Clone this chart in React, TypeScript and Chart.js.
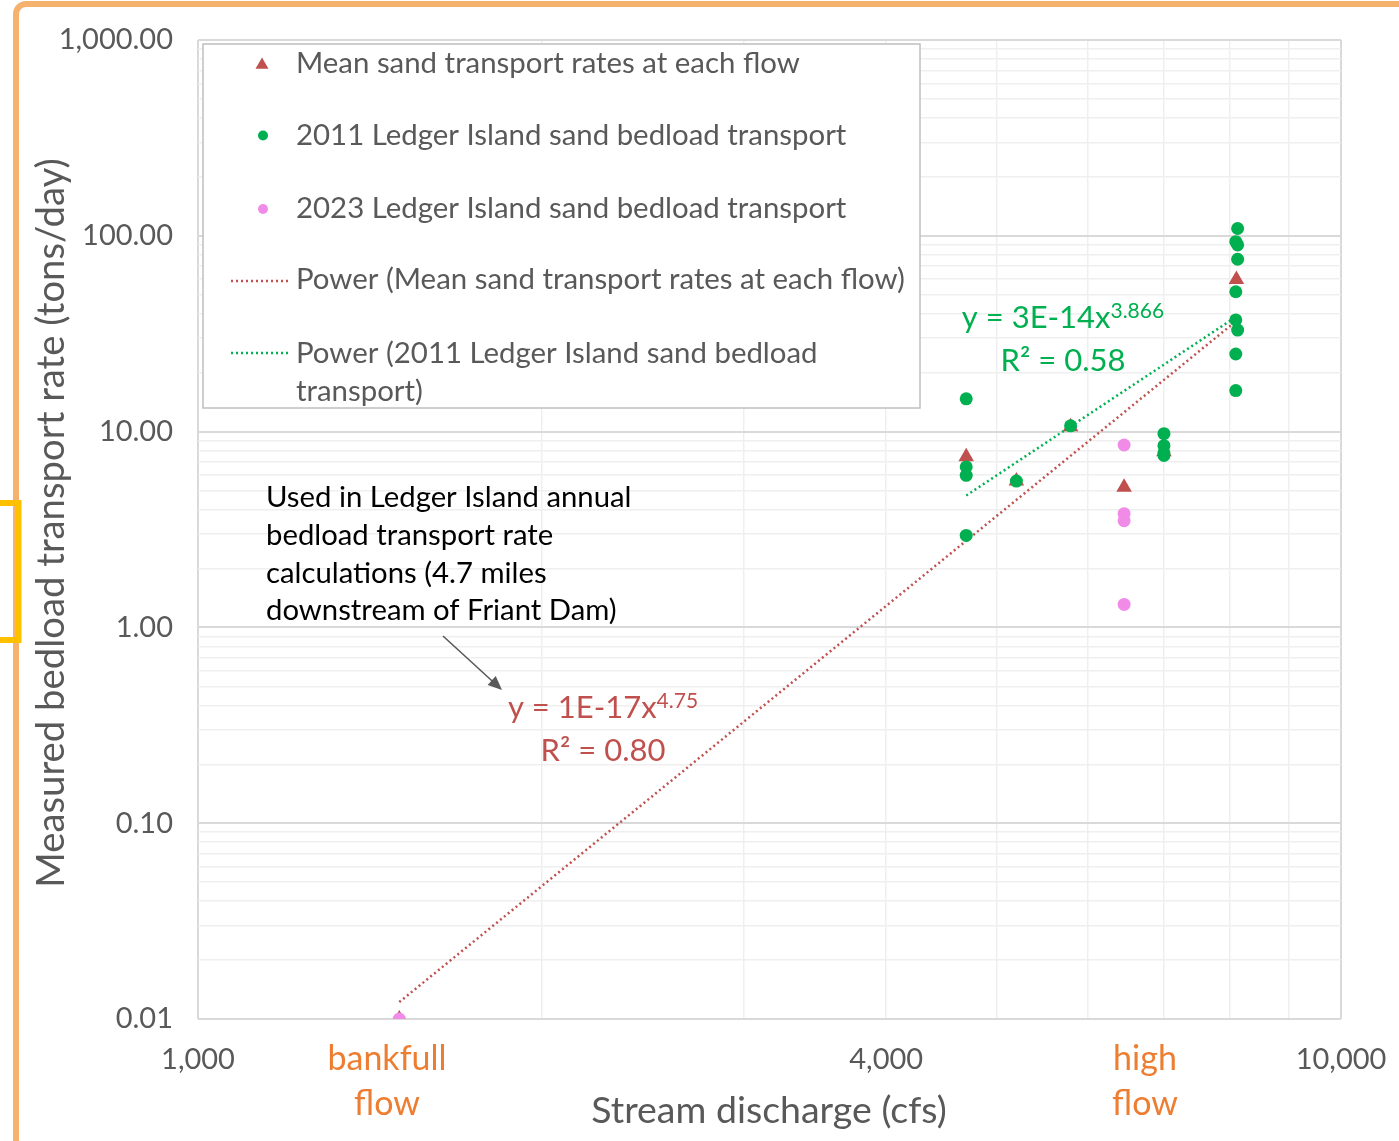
import { useEffect, useRef } from "react";
import { Chart, registerables } from "chart.js";

Chart.register(...registerables);

const FONT = "Lato, 'Noto Sans', sans-serif";

// Stream discharge (cfs) and mean sand transport (tons/day) at each flow
const meanFlows = [1500, 4700, 5200, 5800, 6460, 7000, 8100];
const meanRates = [0.01, 7.44, 5.6, 10.6, 5.19, 7.9, 59.9];

// 2011 Ledger Island sand bedload samples
const flows2011 = [4700, 4700, 4700, 4700, 5200, 5800, 7000, 7000, 7000, 7000, 8120, 8090, 8120, 8120, 8090, 8090, 8120, 8090, 8090];
const rates2011 = [14.7, 6.6, 5.98, 2.95, 5.59, 10.7, 9.76, 8.47, 7.8, 7.55, 109, 93.3, 89.8, 75.9, 51.8, 37.2, 33.0, 24.9, 16.2];

// 2023 Ledger Island sand bedload samples
const flows2023 = [1500, 6460, 6460, 6460, 6460];
const rates2023 = [0.01, 8.54, 3.81, 3.51, 1.31];

// Power trendlines y = a * x^b
const meanFit = { a: 1e-17, b: 4.75, r2: 0.8 };
const fit2011 = { a: 3e-14, b: 3.866, r2: 0.58 };

// Axis ticks
const xTickLabels = [1000, 4000, 10000];
const xDecades = [1000, 10000];
const yDecades = [0.01, 0.1, 1, 10, 100, 1000];

const LABEL_MEAN = "Mean sand transport rates at each flow";
const LABEL_2011 = "2011 Ledger Island sand bedload transport";
const LABEL_2023 = "2023 Ledger Island sand bedload transport";
const LABEL_FIT_MEAN = "Power (Mean sand transport rates at each flow)";
const LABEL_FIT_2011 = ["Power (2011 Ledger Island sand bedload", "transport)"];
const NOTE_LINES = [
  "Used in Ledger Island annual",
  "bedload transport rate",
  "calculations (4.7 miles",
  "downstream of Friant Dam)",
];
const X_TITLE = "Stream discharge (cfs)";
const Y_TITLE = "Measured bedload transport rate (tons/day)";

const RED = "#C0504D";
const GREEN = "#00B050";
const PINK = "#F08CE8";
const GRAY_TEXT = "#595959";
const ORANGE_TEXT = "#ED7D31";
const MAJOR_GRID = "#d9d9d9";
const MINOR_GRID = "#efefef";

const W = 1399;
const H = 1141;
const AREA = { left: 198, top: 40, right: 1341, bottom: 1019 };

const pts = (xs: number[], ys: number[]) => xs.map((x, i) => ({ x, y: ys[i] }));

function fitLine(fit: { a: number; b: number }, xs: number[]) {
  const lo = Math.min(...xs);
  const hi = Math.max(...xs);
  return [lo, hi].map((x) => ({ x, y: fit.a * Math.pow(x, fit.b) }));
}

const isDecade = (v: number) => Math.abs(Math.log10(v) - Math.round(Math.log10(v))) < 1e-9;

function decadeTicks(decades: number[]) {
  const out: { value: number }[] = [];
  decades.forEach((d, i) => {
    out.push({ value: d });
    if (i < decades.length - 1) {
      for (let m = 2; m <= 9; m++) out.push({ value: +(d * m).toPrecision(6) });
    }
  });
  return out;
}

function triangle(ctx: CanvasRenderingContext2D, x: number, y: number, r: number) {
  ctx.beginPath();
  ctx.moveTo(x, y - r);
  ctx.lineTo(x + r * 0.866, y + r * 0.5);
  ctx.lineTo(x - r * 0.866, y + r * 0.5);
  ctx.closePath();
  ctx.fill();
}

function dot(ctx: CanvasRenderingContext2D, x: number, y: number, r: number) {
  ctx.beginPath();
  ctx.arc(x, y, r, 0, Math.PI * 2);
  ctx.fill();
}

function dottedLine(ctx: CanvasRenderingContext2D, x1: number, x2: number, y: number, color: string) {
  ctx.save();
  ctx.strokeStyle = color;
  ctx.lineWidth = 2.5;
  ctx.setLineDash([2, 3]);
  ctx.beginPath();
  ctx.moveTo(x1, y);
  ctx.lineTo(x2, y);
  ctx.stroke();
  ctx.restore();
}

function powerLabel(
  ctx: CanvasRenderingContext2D,
  fit: { a: number; b: number; r2: number },
  cx: number,
  base1: number,
  base2: number,
  color: string
) {
  const main = `y = ${fit.a.toExponential(0).toUpperCase()}x`;
  const sup = String(fit.b);
  ctx.fillStyle = color;
  ctx.textBaseline = "alphabetic";
  ctx.font = `31px ${FONT}`;
  const wMain = ctx.measureText(main).width;
  ctx.font = `21px ${FONT}`;
  const wSup = ctx.measureText(sup).width;
  const x0 = cx - (wMain + wSup) / 2;
  ctx.textAlign = "left";
  ctx.font = `31px ${FONT}`;
  ctx.fillText(main, x0, base1);
  ctx.font = `21px ${FONT}`;
  ctx.fillText(sup, x0 + wMain, base1 - 10);
  ctx.font = `31px ${FONT}`;
  ctx.textAlign = "center";
  ctx.fillText(`R² = ${fit.r2.toFixed(2)}`, cx, base2);
}

const decorPlugin = {
  id: "decor",
  afterDraw(chart: Chart) {
    const ctx = chart.ctx;
    ctx.save();

    // Outer frame
    ctx.strokeStyle = "#F5B26C";
    ctx.lineWidth = 6;
    ctx.beginPath();
    ctx.moveTo(16, H);
    ctx.lineTo(16, 14);
    ctx.arcTo(16, 4, 26, 4, 10);
    ctx.lineTo(W, 4);
    ctx.stroke();

    // Side bracket
    ctx.strokeStyle = "#FFC000";
    ctx.beginPath();
    ctx.moveTo(0, 503);
    ctx.lineTo(18.5, 503);
    ctx.lineTo(18.5, 640);
    ctx.lineTo(0, 640);
    ctx.stroke();

    // Axis titles
    ctx.fillStyle = GRAY_TEXT;
    ctx.font = `37.5px ${FONT}`;
    ctx.textAlign = "center";
    ctx.textBaseline = "alphabetic";
    ctx.fillText(X_TITLE, 769, 1123);
    ctx.font = `38.3px ${FONT}`;
    ctx.save();
    ctx.translate(64, 523);
    ctx.rotate(-Math.PI / 2);
    ctx.fillText(Y_TITLE, 0, 0);
    ctx.restore();

    // Flow notes under the x axis
    ctx.fillStyle = ORANGE_TEXT;
    ctx.font = `34px ${FONT}`;
    ctx.fillText("bankfull", 387, 1070);
    ctx.fillText("flow", 387, 1115);
    ctx.fillText("high", 1145, 1070);
    ctx.fillText("flow", 1145, 1115);

    // Legend
    const lx = 203, ly = 44, lw = 717, lh = 364;
    ctx.fillStyle = "#ffffff";
    ctx.fillRect(lx, ly, lw, lh);
    ctx.strokeStyle = "#bfbfbf";
    ctx.lineWidth = 1.5;
    ctx.strokeRect(lx, ly, lw, lh);

    ctx.fillStyle = RED;
    triangle(ctx, 262, 65, 7.5);
    ctx.fillStyle = GREEN;
    dot(ctx, 263, 135.5, 5);
    ctx.fillStyle = PINK;
    dot(ctx, 263, 209, 5);
    dottedLine(ctx, 231, 289, 281, RED);
    dottedLine(ctx, 231, 289, 353, GREEN);

    ctx.fillStyle = GRAY_TEXT;
    ctx.font = `29.4px ${FONT}`;
    ctx.textAlign = "left";
    ctx.fillText(LABEL_MEAN, 296, 73);
    ctx.fillText(LABEL_2011, 296, 145);
    ctx.fillText(LABEL_2023, 296, 218);
    ctx.fillText(LABEL_FIT_MEAN, 296, 289);
    ctx.fillText(LABEL_FIT_2011[0], 296, 363);
    ctx.fillText(LABEL_FIT_2011[1], 296, 401);

    // Note and arrow
    ctx.fillStyle = "#000000";
    ctx.font = `29.3px ${FONT}`;
    NOTE_LINES.forEach((t, i) => ctx.fillText(t, 266, 507 + i * 37.8));

    const ax1 = 443, ay1 = 636, ax2 = 502, ay2 = 690;
    const ang = Math.atan2(ay2 - ay1, ax2 - ax1);
    ctx.strokeStyle = GRAY_TEXT;
    ctx.fillStyle = GRAY_TEXT;
    ctx.lineWidth = 1.6;
    ctx.beginPath();
    ctx.moveTo(ax1, ay1);
    ctx.lineTo(ax2 - 10 * Math.cos(ang), ay2 - 10 * Math.sin(ang));
    ctx.stroke();
    ctx.beginPath();
    ctx.moveTo(ax2, ay2);
    ctx.lineTo(ax2 - 14 * Math.cos(ang) + 6 * Math.sin(ang), ay2 - 14 * Math.sin(ang) - 6 * Math.cos(ang));
    ctx.lineTo(ax2 - 14 * Math.cos(ang) - 6 * Math.sin(ang), ay2 - 14 * Math.sin(ang) + 6 * Math.cos(ang));
    ctx.closePath();
    ctx.fill();

    // Trendline equations
    powerLabel(ctx, fit2011, 1063, 328, 371, GREEN);
    powerLabel(ctx, meanFit, 603, 718, 761, RED);

    ctx.restore();
  },
};

export default function App() {
  const canvasRef = useRef<HTMLCanvasElement | null>(null);

  useEffect(() => {
    const canvas = canvasRef.current;
    if (!canvas) return;

    const chart = new Chart(canvas, {
      type: "scatter",
      data: {
        datasets: [
          {
            label: LABEL_2023,
            data: pts(flows2023, rates2023),
            pointStyle: "circle",
            pointRadius: 6.5,
            backgroundColor: PINK,
            borderColor: PINK,
            borderWidth: 0,
            order: 0,
          },
          {
            label: LABEL_2011,
            data: pts(flows2011, rates2011),
            pointStyle: "circle",
            pointRadius: 6.5,
            backgroundColor: GREEN,
            borderColor: GREEN,
            borderWidth: 0,
            order: 1,
          },
          {
            label: LABEL_MEAN,
            data: pts(meanFlows, meanRates),
            pointStyle: "triangle",
            pointRadius: 9,
            backgroundColor: RED,
            borderColor: RED,
            borderWidth: 0,
            order: 2,
          },
          {
            label: LABEL_FIT_MEAN,
            data: fitLine(meanFit, meanFlows),
            showLine: true,
            pointRadius: 0,
            borderColor: RED,
            borderWidth: 2.5,
            borderDash: [2, 3],
            order: 3,
          },
          {
            label: LABEL_FIT_2011.join(" "),
            data: fitLine(fit2011, flows2011),
            showLine: true,
            pointRadius: 0,
            borderColor: GREEN,
            borderWidth: 2.5,
            borderDash: [2, 3],
            order: 4,
          },
        ],
      },
      options: {
        animation: false,
        responsive: false,
        devicePixelRatio: 1,
        layout: { padding: { top: AREA.top, right: W - AREA.right, left: 0, bottom: 0 } },
        plugins: {
          legend: { display: false },
          tooltip: { enabled: false },
        },
        scales: {
          x: {
            type: "logarithmic",
            min: xDecades[0],
            max: xDecades[xDecades.length - 1],
            afterBuildTicks: (s: any) => {
              s.ticks = decadeTicks(xDecades);
            },
            afterFit: (s: any) => {
              s.height = H - AREA.bottom;
              s.paddingLeft = 0;
              s.paddingRight = 0;
            },
            border: { display: false },
            grid: {
              drawTicks: false,
              color: (c: any) => (isDecade(c.tick.value) ? MAJOR_GRID : MINOR_GRID),
              lineWidth: (c: any) => (isDecade(c.tick.value) ? 2 : 1.5),
            },
            ticks: {
              autoSkip: false,
              maxRotation: 0,
              padding: 23,
              color: GRAY_TEXT,
              font: { family: FONT, size: 29 },
              callback: (v: any) =>
                xTickLabels.some((t) => Math.abs(t - Number(v)) < 1e-6)
                  ? Number(v).toLocaleString("en-US")
                  : "",
            },
          },
          y: {
            type: "logarithmic",
            min: yDecades[0],
            max: yDecades[yDecades.length - 1],
            afterBuildTicks: (s: any) => {
              s.ticks = decadeTicks(yDecades);
            },
            afterFit: (s: any) => {
              s.width = AREA.left;
              s.paddingTop = 0;
              s.paddingBottom = 0;
            },
            border: { display: false },
            grid: {
              drawTicks: false,
              color: (c: any) => (isDecade(c.tick.value) ? MAJOR_GRID : MINOR_GRID),
              lineWidth: (c: any) => (isDecade(c.tick.value) ? 2 : 1.5),
            },
            ticks: {
              autoSkip: false,
              padding: 25,
              color: GRAY_TEXT,
              font: { family: FONT, size: 29 },
              callback: (v: any) =>
                isDecade(Number(v))
                  ? Number(v).toLocaleString("en-US", {
                      minimumFractionDigits: 2,
                      maximumFractionDigits: 2,
                    })
                  : "",
            },
          },
        },
      },
      plugins: [decorPlugin],
    });

    return () => chart.destroy();
  }, []);

  return (
    <div style={{ position: "absolute", left: 0, top: 0, width: W, height: H, background: "#ffffff" }}>
      <canvas ref={canvasRef} width={W} height={H} style={{ display: "block" }} />
    </div>
  );
}
